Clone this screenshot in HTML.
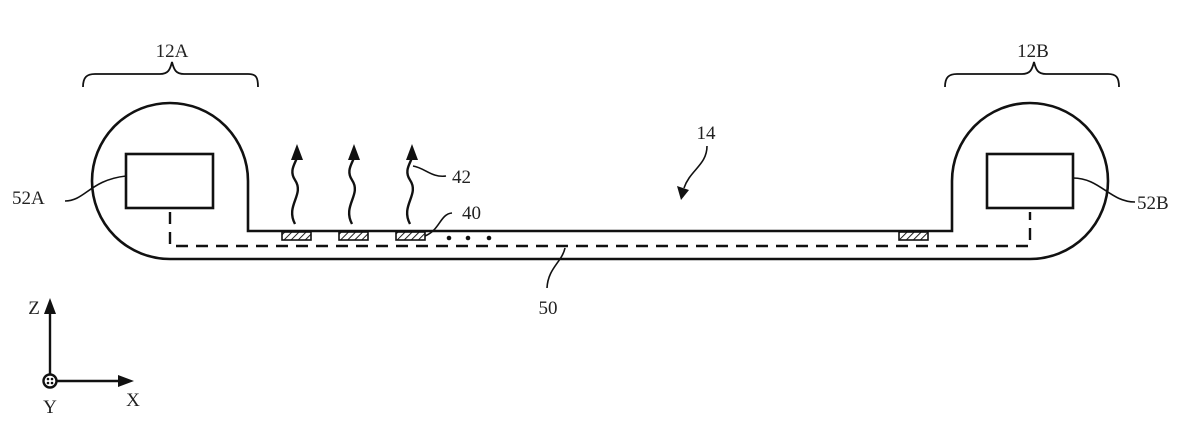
<!DOCTYPE html>
<html><head><meta charset="utf-8"><style>html,body{margin:0;padding:0;background:#fff}svg{display:block}</style></head>
<body>
<svg width="1200" height="421" viewBox="0 0 1200 421" xmlns="http://www.w3.org/2000/svg" font-family="Liberation Serif, serif" font-size="19" fill="none" stroke="#111">
<defs>
<pattern id="h" width="5" height="5" patternUnits="userSpaceOnUse" patternTransform="rotate(45)"><line x1="0" y1="0" x2="0" y2="5" stroke="#222" stroke-width="2"/></pattern>
</defs>
<!-- outline -->
<path d="M952,231 L248,231 L248,181 A78,78 0 1 0 170,259 L1030,259 A78,78 0 1 0 952,181 Z" stroke-width="2.6"/>
<!-- boxes -->
<rect x="126" y="154" width="87" height="54" stroke-width="2.6"/>
<rect x="987" y="154" width="86" height="54" stroke-width="2.6"/>
<!-- dashed -->
<path d="M170,212 V246 H1030 V212" stroke-width="2.4" stroke-dasharray="12,8"/>
<!-- pads -->
<g stroke-width="1.6">
<rect x="282" y="232" width="29" height="8" fill="url(#h)"/>
<rect x="339" y="232" width="29" height="8" fill="url(#h)"/>
<rect x="396" y="232" width="29" height="8" fill="url(#h)"/>
<rect x="899" y="232" width="29" height="8" fill="url(#h)"/>
</g>
<g fill="#111" stroke="none"><circle cx="449" cy="238" r="2.3"/><circle cx="468" cy="238" r="2.3"/><circle cx="489" cy="238" r="2.3"/></g>
<!-- wavy arrows -->
<g stroke-width="2.4">
<path d="M295,224 C285,205 305,195 295,180 C287,168 300,160 297,152"/>
<path d="M352,224 C342,205 362,195 352,180 C344,168 357,160 354,152"/>
<path d="M410,224 C400,205 420,195 410,180 C402,168 415,160 412,152"/>
</g>
<g fill="#111" stroke="none">
<polygon points="297,144 291,160 303,160"/>
<polygon points="354,144 348,160 360,160"/>
<polygon points="412,144 406,160 418,160"/>
</g>
<!-- leaders -->
<g stroke-width="1.6">
<path d="M65,201 C85,201 90,180 126,176"/>
<path d="M1073,178 C1100,178 1110,202 1135,202"/>
<path d="M413,166 C425,168 432,178 446,176"/>
<path d="M425,236 C440,230 440,214 452,213"/>
<path d="M565,248 C562,262 548,268 547,288"/>
<path d="M707,146 C707,165 690,170 684,188"/>
<path d="M12,0" />
</g>
<polygon points="681,200 677,186 689,190" fill="#111" stroke="none"/>
<!-- braces -->
<g stroke-width="1.8">
<path d="M83,87 C83,77 87,74 95,74 L160,74 C168,74 170,70 172,62 C174,70 176,74 184,74 L248,74 C256,74 258,77 258,87"/>
<path d="M945,87 C945,77 949,74 957,74 L1022,74 C1030,74 1032,70 1034,62 C1036,70 1038,74 1046,74 L1108,74 C1116,74 1119,77 1119,87"/>
</g>
<!-- axes -->
<g stroke-width="2.4">
<line x1="50" y1="374" x2="50" y2="310"/>
<line x1="57" y1="381" x2="122" y2="381"/>
<circle cx="50" cy="381" r="6.5"/>
</g>
<g fill="#111" stroke="none">
<polygon points="50,298 44,314 56,314"/>
<polygon points="134,381 118,375 118,387"/>
<circle cx="48" cy="379" r="1.3"/><circle cx="52" cy="379" r="1.3"/><circle cx="48" cy="383" r="1.3"/><circle cx="52" cy="383" r="1.3"/>
</g>
<g fill="#222" stroke="none">
<text x="172" y="57" text-anchor="middle">12A</text>
<text x="1033" y="57" text-anchor="middle">12B</text>
<text x="706" y="139" text-anchor="middle">14</text>
<text x="452" y="183">42</text>
<text x="462" y="219">40</text>
<text x="548" y="314" text-anchor="middle">50</text>
<text x="12" y="204">52A</text>
<text x="1137" y="209">52B</text>
<text x="34" y="314" text-anchor="middle">Z</text>
<text x="50" y="413" text-anchor="middle">Y</text>
<text x="133" y="406" text-anchor="middle">X</text>
</g>
</svg>
</body></html>
